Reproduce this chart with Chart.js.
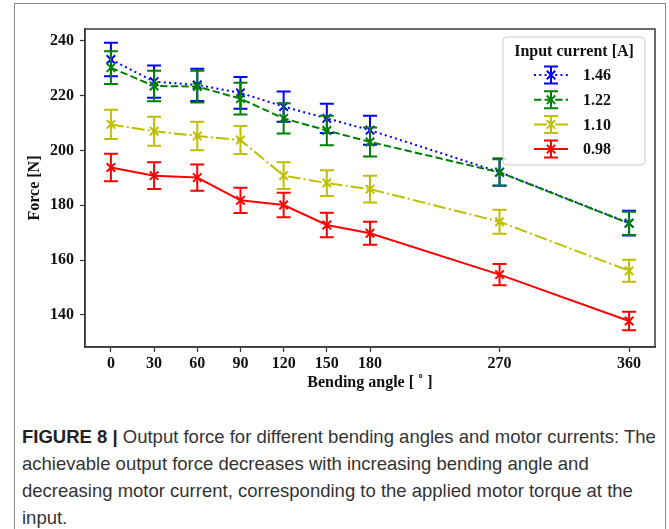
<!DOCTYPE html>
<html>
<head>
<meta charset="utf-8">
<script src="https://cdn.jsdelivr.net/npm/chart.js@4.4.0/dist/chart.umd.min.js"></script>
<style>
  body { margin: 0; background: #fff; width: 669px; height: 529px; overflow: hidden; position: relative; }
  #frame { position: absolute; left: 14px; top: 3px; width: 652px; height: 600px; border: 1px solid #8a8a8a; box-sizing: border-box; }
  #wrap { position: absolute; left: 0; top: 4px; width: 669px; height: 398px; }
  #caption { position: absolute; left: 22px; top: 423px; font-family: "Liberation Sans", Arial, sans-serif; font-size: 18.5px; line-height: 27px; color: #333; white-space: nowrap; }
  #caption b { color: #222; }
</style>
</head>
<body>
<div id="frame"></div>
<div id="wrap"><canvas id="chartData"></canvas></div>
<div id="caption"><b>FIGURE 8 |</b> Output force for different bending angles and motor currents: The<br>achievable output force decreases with increasing bending angle and<br>decreasing motor current, corresponding to the applied motor torque at the<br>input.</div>

<script>
// bending angles [deg] and tick values
const angles = [0, 30, 60, 90, 120, 150, 180, 270, 360];
const yTicks = [140, 160, 180, 200, 220, 240];

// force [N] per input current
const currents = ["1.46", "1.22", "1.10", "0.98"];
const force146 = [233.2, 225.1, 223.9, 221.0, 216.0, 211.7, 207.4, 192.1, 173.5];
const force122 = [230.2, 223.5, 223.3, 218.9, 211.7, 207.3, 203.1, 192.0, 173.4];
const force110 = [209.5, 207.0, 205.3, 203.8, 190.8, 188.1, 185.9, 174.0, 156.1];
const force098 = [193.8, 190.8, 190.1, 181.8, 180.1, 172.8, 169.8, 154.7, 137.8];

// error bar half-heights [N]
const err146 = [6.1, 5.9, 5.9, 5.8, 5.5, 5.3, 5.3, 5.0, 4.5];
const err122 = [6.0, 5.6, 5.8, 5.8, 5.5, 5.4, 5.3, 4.8, 4.2];
const err110 = [5.3, 5.3, 5.2, 5.1, 4.9, 4.7, 4.9, 4.4, 4.0];
const err098 = [5.0, 4.9, 4.8, 4.6, 4.5, 4.5, 4.2, 3.9, 3.4];

const serif = "'Liberation Serif', 'Times New Roman', serif";

function series(label, values, errors, color, dash, order) {
    return {
        label: label,
        data: angles.map((a, i) => ({ x: a, y: values[i] })),
        errors: errors,
        borderColor: color,
        backgroundColor: color,
        borderWidth: 2,
        borderDash: dash,
        pointStyle: "crossRot",
        pointRadius: 6,
        pointBorderWidth: 2,
        pointBorderColor: color,
        tension: 0,
        order: order,
    };
}

// vertical error bars with caps, drawn right after each dataset
const errorBars = {
    id: "errorBars",
    afterDatasetDraw(chart, args) {
        const ds = chart.data.datasets[args.index];
        const xs = chart.scales.x, ys = chart.scales.y, ctx = chart.ctx;
        ctx.save();
        ctx.strokeStyle = ds.borderColor;
        ctx.lineWidth = 2;
        ctx.setLineDash([]);
        ds.data.forEach((p, i) => {
            const px = xs.getPixelForValue(p.x);
            const top = ys.getPixelForValue(p.y + ds.errors[i]);
            const bot = ys.getPixelForValue(p.y - ds.errors[i]);
            ctx.beginPath();
            ctx.moveTo(px, top); ctx.lineTo(px, bot);
            ctx.moveTo(px - 7, top); ctx.lineTo(px + 7, top);
            ctx.moveTo(px - 7, bot); ctx.lineTo(px + 7, bot);
            ctx.stroke();
        });
        ctx.restore();
    }
};

// box around the plot and the legend in the upper right
const frameAndLegend = {
    id: "frameAndLegend",
    afterDraw(chart) {
        const ctx = chart.ctx, a = chart.chartArea;
        ctx.save();
        ctx.strokeStyle = "#3a3a3a";
        ctx.lineWidth = 1.5;
        ctx.strokeRect(a.left, a.top, a.right - a.left, a.bottom - a.top);

        const bx = a.right - 152, by = a.top + 8, bw = 142, bh = 128;
        ctx.beginPath();
        ctx.roundRect(bx, by, bw, bh, 4);
        ctx.fillStyle = "rgba(255,255,255,0.85)";
        ctx.fill();
        ctx.strokeStyle = "#cccccc";
        ctx.lineWidth = 1;
        ctx.stroke();

        ctx.fillStyle = "#111";
        ctx.font = "bold 16px " + serif;
        ctx.textAlign = "center";
        ctx.textBaseline = "middle";
        ctx.fillText("Input current [A]", bx + bw / 2, by + 15);

        chart.data.datasets.forEach((ds, i) => {
            const cy = by + 38 + i * 24.7, cx = bx + 48;
            ctx.strokeStyle = ds.borderColor;
            ctx.lineWidth = 2;
            ctx.setLineDash(ds.borderDash);
            ctx.beginPath();
            ctx.moveTo(bx + 31, cy); ctx.lineTo(bx + 65, cy);
            ctx.stroke();
            ctx.setLineDash([]);
            ctx.beginPath();
            ctx.moveTo(cx, cy - 8.5); ctx.lineTo(cx, cy + 8.5);
            ctx.moveTo(cx - 7, cy - 8.5); ctx.lineTo(cx + 7, cy - 8.5);
            ctx.moveTo(cx - 7, cy + 8.5); ctx.lineTo(cx + 7, cy + 8.5);
            ctx.moveTo(cx - 4.2, cy - 4.2); ctx.lineTo(cx + 4.2, cy + 4.2);
            ctx.moveTo(cx - 4.2, cy + 4.2); ctx.lineTo(cx + 4.2, cy - 4.2);
            ctx.stroke();
            ctx.fillStyle = "#111";
            ctx.textAlign = "left";
            ctx.fillText(ds.label, bx + 80, cy + 1);
        });
        ctx.restore();
    }
};

const ctx = document.getElementById("chartData");
const tickFont = { family: serif, weight: "bold", size: 16 };

new Chart(ctx, {
    type: "line",
    data: {
        datasets: [
            series(currents[0], force146, err146, "#0000ff", [2, 3.3], 4),
            series(currents[1], force122, err122, "#008000", [7.4, 3.2], 3),
            series(currents[2], force110, err110, "#bfbf00", [12.8, 3.2, 2, 3.2], 2),
            series(currents[3], force098, err098, "#ff0000", [], 1),
        ],
    },
    options: {
        responsive: true,
        maintainAspectRatio: false,
        animation: false,
        layout: { padding: { left: 19, right: 14, top: 25, bottom: 3 } },
        plugins: { legend: { display: false }, tooltip: { enabled: false } },
        scales: {
            x: {
                type: "linear",
                min: -18,
                max: 378,
                afterBuildTicks(s) { s.ticks = angles.map(v => ({ value: v })); },
                afterFit(s) { s.height = 52; },
                grid: { drawOnChartArea: false, tickLength: 5, tickColor: "#333", tickWidth: 1.2 },
                border: { display: true, color: "#3a3a3a", width: 1.5 },
                ticks: { color: "#111", font: tickFont, padding: 2, maxRotation: 0, autoSkip: false },
                title: { display: true, text: "Bending angle [ ˚ ]", color: "#111", font: tickFont, padding: { top: 2, bottom: 7 } },
            },
            y: {
                min: 128.3,
                max: 244.3,
                afterBuildTicks(s) { s.ticks = yTicks.map(v => ({ value: v })); },
                afterFit(s) { s.width = 66; },
                grid: { drawOnChartArea: false, tickLength: 5, tickColor: "#333", tickWidth: 1.2 },
                border: { display: true, color: "#3a3a3a", width: 1.5 },
                ticks: { color: "#111", font: tickFont, padding: 6 },
                title: { display: true, text: "Force [N]", color: "#111", font: tickFont, padding: { top: 6, bottom: 0 } },
            },
        },
    },
    plugins: [errorBars, frameAndLegend],
});
</script>
</body>
</html>
